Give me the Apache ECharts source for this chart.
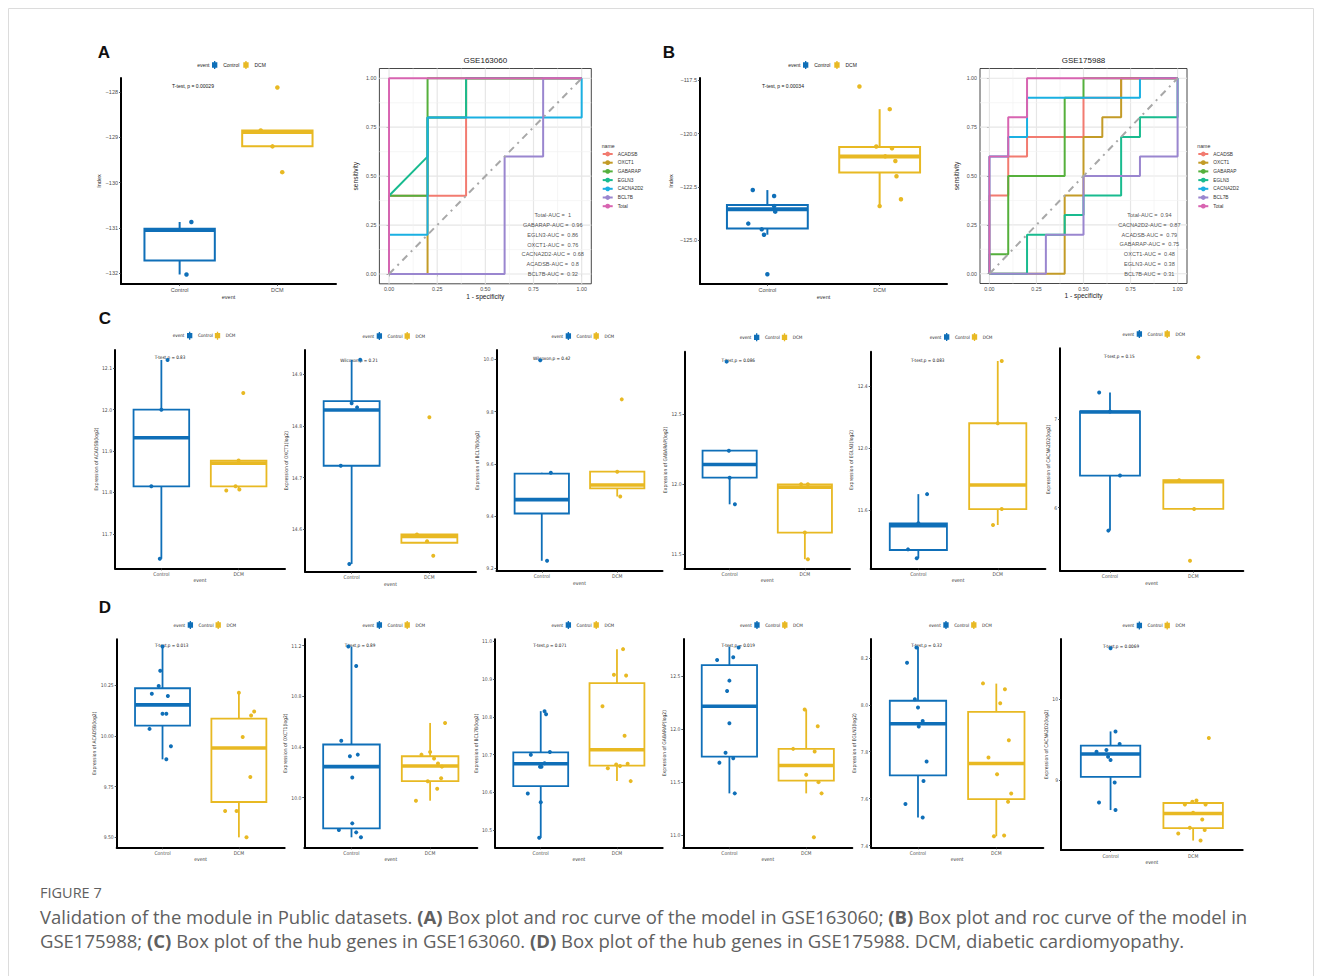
<!DOCTYPE html>
<html>
<head>
<meta charset="utf-8">
<title>Figure 7</title>
<script src="https://cdn.jsdelivr.net/npm/echarts@6/dist/echarts.min.js"></script>
<style>
  html, body { margin: 0; padding: 0; background: #fff; }
  #chart { width: 1322px; height: 976px; }
</style>
</head>
<body>
<div id="chart"></div>
<script>
// ---------------- data ----------------
const groups = ['Control', 'DCM'];
const groupColors = ['#0F6FB8', '#E8B923'];

// box summaries: [lower whisker, Q1, median, Q3, upper whisker] for Control, DCM
// points: sample values; jitter: horizontal spread of each sample (category units)

// A: risk index, GSE163060
const A_box = [[-132.03, -131.72, -131.05, -131.02, -130.87], [-129.2, -129.2, -128.88, -128.85, -128.85]];
const A_pts = [[-130.87, -132.03], [-127.9, -128.85, -129.2, -129.77]];
const A_jit = [[0.12, 0.07], [0, -0.17, -0.05, 0.05]];
const A_ticks = [-132, -131, -130, -129, -128];

// B: risk index, GSE175988
const B_box = [[-124.74, -124.45, -123.55, -123.35, -122.65], [-123.4, -121.83, -121.08, -120.63, -118.86]];
const B_pts = [[-122.65, -122.93, -123.4, -123.66, -124.22, -124.49, -124.74, -126.59],
               [-117.8, -118.86, -120.61, -120.69, -121.07, -121.29, -122.0, -123.08, -123.4]];
const B_jit = [[-0.13, 0.06, 0.06, 0.07, -0.17, -0.05, -0.03, 0], [-0.18, 0.09, -0.03, 0.11, 0.05, 0.14, 0.15, 0.19, 0]];
const B_ticks = [-125, -122.5, -120, -117.5];

// C: hub genes, GSE163060
const C1_box = [[11.64, 11.815, 11.932, 12.0, 12.12], [11.805, 11.815, 11.871, 11.877, 11.877]];
const C1_pts = [[12.12, 12.0, 11.815, 11.64], [12.04, 11.877, 11.815, 11.807, 11.805]];
const C1_jit = [[0.08, 0, -0.13, -0.02], [0.06, 0, -0.04, 0.01, -0.16]];
const C1_ticks = [11.7, 11.8, 11.9, 12.0, 12.1];

const C2_box = [[14.533, 14.723, 14.831, 14.848, 14.928], [14.574, 14.574, 14.586, 14.59, 14.59]];
const C2_pts = [[14.928, 14.844, 14.836, 14.723, 14.533], [14.817, 14.59, 14.577, 14.549]];
const C2_jit = [[0.11, 0, 0.07, -0.14, -0.03], [0, -0.16, -0.03, 0.05]];
const C2_ticks = [14.6, 14.7, 14.8, 14.9];

const C3_box = [[9.229, 9.41, 9.463, 9.563, 9.566], [9.475, 9.506, 9.519, 9.57, 9.57]];
const C3_pts = [[9.997, 9.566, 9.229], [9.847, 9.57, 9.475]];
const C3_jit = [[-0.02, 0.12, 0.07], [0.06, 0, 0.04]];
const C3_ticks = [9.2, 9.4, 9.6, 9.8, 10.0];

const C4_box = [[11.857, 12.047, 12.141, 12.24, 12.24], [11.465, 11.655, 11.98, 12.0, 12.0]];
const C4_pts = [[12.876, 12.24, 12.047, 11.857], [12.0, 12.0, 11.655, 11.465]];
const C4_jit = [[-0.04, -0.01, 0, 0.07], [-0.05, 0.04, 0, 0.04]];
const C4_ticks = [11.5, 12.0, 12.5];

const C5_box = [[11.289, 11.342, 11.499, 11.514, 11.702], [11.503, 11.606, 11.761, 12.159, 12.56]];
const C5_pts = [[11.702, 11.514, 11.346, 11.289], [12.56, 12.159, 11.606, 11.503]];
const C5_jit = [[0.11, 0, -0.13, -0.02], [0.05, 0, 0.05, -0.06]];
const C5_ticks = [11.6, 12.0, 12.4];

const C6_box = [[5.74, 6.362, 7.08, 7.086, 7.3], [5.985, 5.985, 6.294, 6.31, 6.31]];
const C6_pts = [[7.3, 7.086, 6.362, 5.74], [7.7, 6.31, 5.985, 5.4]];
const C6_jit = [[-0.13, 0, 0.12, -0.02], [0.06, -0.17, 0.01, -0.04]];
const C6_ticks = [6, 7];

// D: hub genes, GSE175988
const D1_box = [[9.884, 10.05, 10.152, 10.234, 10.44], [9.5, 9.674, 9.94, 10.084, 10.212]];
const D1_pts = [[10.44, 10.32, 10.245, 10.207, 10.196, 10.108, 10.108, 10.034, 9.948, 9.884],
                [10.212, 10.12, 10.1, 9.994, 9.797, 9.63, 9.63, 9.5]];
const D1_jit = [[0, -0.03, -0.05, -0.14, 0.07, 0, 0.05, -0.17, 0.11, 0.05], [0, 0.2, 0.16, 0.05, 0.15, -0.18, -0.03, 0.1]];
const D1_ticks = [9.5, 9.75, 10.0, 10.25];

const D2_box = [[9.687, 9.758, 10.245, 10.42, 11.193], [9.976, 10.13, 10.25, 10.327, 10.59]];
const D2_pts = [[11.193, 11.04, 10.45, 10.327, 10.34, 10.16, 9.797, 9.744, 9.726, 9.687],
                [10.59, 10.36, 10.34, 10.31, 10.27, 10.245, 10.153, 10.13, 10.07, 9.976]];
const D2_jit = [[-0.04, 0.06, -0.13, -0.02, 0.08, 0.01, 0.01, -0.16, 0.06, 0.12], [0.19, 0, -0.11, 0.05, 0.1, 0.15, 0.14, -0.03, 0.09, -0.18]];
const D2_ticks = [10.0, 10.4, 10.8, 11.2];

const D3_box = [[10.48, 10.617, 10.676, 10.706, 10.815], [10.63, 10.671, 10.713, 10.889, 10.979]];
const D3_pts = [[10.815, 10.807, 10.707, 10.7, 10.677, 10.668, 10.668, 10.597, 10.574, 10.48],
                [10.979, 10.911, 10.909, 10.828, 10.75, 10.674, 10.67, 10.676, 10.664, 10.63]];
const D3_jit = [[0.05, 0.07, 0.12, -0.13, 0.05, -0.01, 0.01, -0.17, 0, -0.02], [0.08, -0.04, 0.12, -0.19, 0.1, -0.01, 0.04, 0.14, -0.12, 0.18]];
const D3_ticks = [10.5, 10.6, 10.7, 10.8, 10.9, 11.0];

const D4_box = [[11.393, 11.74, 12.215, 12.604, 12.778], [11.393, 11.514, 11.656, 11.813, 12.184]];
const D4_pts = [[12.769, 12.678, 12.652, 12.457, 12.36, 12.054, 11.777, 11.724, 11.683, 11.393],
                [12.184, 12.027, 11.813, 11.788, 11.568, 11.499, 11.393, 10.978]];
const D4_jit = [[0.12, 0.05, -0.16, 0, -0.03, 0, -0.05, 0.05, -0.13, 0.07], [-0.02, 0.15, -0.17, 0.11, 0, 0.16, 0.2, 0.1]];
const D4_ticks = [11.0, 11.5, 12.0, 12.5];

const D5_box = [[7.52, 7.699, 7.919, 8.017, 8.247], [7.44, 7.598, 7.75, 7.97, 8.09]];
const D5_pts = [[8.244, 8.179, 8.023, 7.988, 7.931, 7.907, 7.758, 7.675, 7.577, 7.52],
                [8.091, 8.066, 8.006, 7.849, 7.775, 7.704, 7.622, 7.587, 7.44, 7.443]];
const D5_jit = [[-0.02, -0.14, -0.04, 0, 0.06, 0.01, 0.11, 0.07, -0.16, 0.06], [-0.17, 0.11, 0.05, 0.16, -0.1, 0.01, 0.19, 0.15, -0.03, 0.1]];
const D5_ticks = [7.4, 7.6, 7.8, 8.0, 8.2];

const D6_box = [[8.628, 9.04, 9.322, 9.425, 9.602], [8.25, 8.405, 8.586, 8.715, 8.746]];
const D6_pts = [[10.632, 9.602, 9.446, 9.35, 9.372, 9.289, 9.248, 8.97, 8.722, 8.628],
                [9.52, 8.746, 8.73, 8.697, 8.697, 8.594, 8.511, 8.408, 8.338, 8.38, 8.25]];
const D6_jit = [[0, 0.06, 0.11, -0.17, -0.05, -0.03, 0, 0.05, -0.14, 0.06], [0.19, 0.04, -0.01, 0.15, -0.1, 0, 0.11, -0.04, -0.18, 0.14, 0.09]];
const D6_ticks = [9, 10];

// ROC curves: [1 - specificity, sensitivity]
const rocNames = ['ACADSB', 'OXCT1', 'GABARAP', 'EGLN3', 'CACNA2D2', 'BCL7B', 'Total'];
const rocColors = ['#F27B70', '#C39B27', '#55B03C', '#19BB8F', '#1AB0E2', '#9A86CF', '#D864B1'];

const rocA_curves = [
  [[0, 0], [0, 0.4], [0.4, 0.4], [0.4, 1], [1, 1]],
  [[0, 0], [0.2, 0], [0.2, 0.8], [0.4, 0.8], [0.4, 1], [1, 1]],
  [[0, 0], [0, 0.4], [0.2, 0.4], [0.2, 1], [1, 1]],
  [[0, 0], [0, 0.4], [0.2, 0.6], [0.2, 0.8], [0.4, 0.8], [0.4, 1], [1, 1]],
  [[0, 0], [0, 0.2], [0.2, 0.2], [0.2, 0.8], [1, 0.8], [1, 1]],
  [[0, 0], [0.6, 0], [0.6, 0.6], [0.8, 0.6], [0.8, 1], [1, 1]],
  [[0, 0], [0, 1], [1, 1]]
];
const rocA_auc = ['Total-AUC =  1', 'GABARAP-AUC =  0.96', 'EGLN3-AUC =  0.86', 'OXCT1-AUC =  0.76',
                  'CACNA2D2-AUC =  0.68', 'ACADSB-AUC =  0.8', 'BCL7B-AUC =  0.32'];

const rocB_curves = [
  [[0, 0], [0, 0.4], [0.1, 0.4], [0.1, 0.6], [0.2, 0.6], [0.2, 0.7], [0.5, 0.7], [0.5, 0.9], [0.7, 0.9], [0.7, 1], [1, 1]],
  [[0, 0], [0.4, 0], [0.4, 0.4], [0.5, 0.4], [0.5, 0.7], [0.6, 0.7], [0.6, 0.8], [0.7, 0.8], [0.7, 1], [1, 1]],
  [[0, 0], [0, 0.1], [0.1, 0.1], [0.1, 0.5], [0.4, 0.5], [0.4, 0.9], [0.5, 0.9], [0.5, 1], [1, 1]],
  [[0, 0], [0.2, 0], [0.2, 0.2], [0.4, 0.2], [0.4, 0.3], [0.5, 0.3], [0.5, 0.4], [0.7, 0.4], [0.7, 0.7], [0.8, 0.7], [0.8, 0.8], [1, 0.8], [1, 1]],
  [[0, 0], [0, 0.6], [0.1, 0.6], [0.1, 0.7], [0.2, 0.7], [0.2, 0.9], [0.8, 0.9], [0.8, 1], [1, 1]],
  [[0, 0], [0.3, 0], [0.3, 0.2], [0.5, 0.2], [0.5, 0.5], [0.8, 0.5], [0.8, 0.6], [1, 0.6], [1, 1]],
  [[0, 0], [0, 0.6], [0.1, 0.6], [0.1, 0.8], [0.2, 0.8], [0.2, 1], [1, 1]]
];
const rocB_auc = ['Total-AUC =  0.94', 'CACNA2D2-AUC =  0.87', 'ACADSB-AUC =  0.79', 'GABARAP-AUC =  0.75',
                  'OXCT1-AUC =  0.48', 'EGLN3-AUC =  0.38', 'BCL7B-AUC =  0.31'];
const rocAucY = [0.3, 0.25, 0.2, 0.15, 0.1, 0.05, 0];
const rocTicks = [0, 0.25, 0.5, 0.75, 1];
const rocMinor = [0.125, 0.375, 0.625, 0.875];

// ---------------- layout ----------------
const FONT = "'Liberation Sans', Arial, Helvetica, sans-serif";
const NARROW = "'Liberation Sans Narrow', 'DejaVu Sans Condensed', 'Liberation Sans', Arial, sans-serif";

const boxPanels = [
  { box: A_box, pts: A_pts, jit: A_jit, ticks: A_ticks, dec: 0, big: true,
    grid: [121, 78, 215, 206], range: [-132.24, -127.69], yName: 'Index', yGap: 15, xGap: 8,
    legX: 212, legY: 65, test: 'T-test, p = 0.00029', testX: 193, testY: 86 },
  { box: B_box, pts: B_pts, jit: B_jit, ticks: B_ticks, dec: 1, big: true,
    grid: [700, 78, 247, 206], range: [-127.05, -117.4], yName: 'Index', yGap: 26, xGap: 8,
    legX: 803, legY: 65, test: 'T-test, p = 0.00034', testX: 783, testY: 86 },

  { box: C1_box, pts: C1_pts, jit: C1_jit, ticks: C1_ticks, dec: 1,
    grid: [115, 350, 170, 218.3], range: [11.617, 12.144], yName: 'Expression of ACADSB(log2)', yGap: 11, xGap: 9,
    legX: 187, legY: 335.7, test: 'T-test,p = 0.83', testX: 170, testY: 357.7 },
  { box: C2_box, pts: C2_pts, jit: C2_jit, ticks: C2_ticks, dec: 1,
    grid: [305, 350, 171, 221.7], range: [14.518, 14.947], yName: 'Expression of OXCT1(log2)', yGap: 11, xGap: 10,
    legX: 376.7, legY: 336, test: 'Wilcoxon,p = 0.21', testX: 359, testY: 360 },
  { box: C3_box, pts: C3_pts, jit: C3_jit, ticks: C3_ticks, dec: 1,
    grid: [496.5, 350, 166, 220.7], range: [9.191, 10.036], yName: 'Expression of BCL7B(log2)', yGap: 10, xGap: 10,
    legX: 565.7, legY: 336, test: 'Wilcoxon,p = 0.42', testX: 551.7, testY: 358.3 },
  { box: C4_box, pts: C4_pts, jit: C4_jit, ticks: C4_ticks, dec: 1,
    grid: [684.5, 351.7, 165.5, 216.6], range: [11.4, 12.947], yName: 'Expression of GABARAP(log2)', yGap: 10, xGap: 9.5,
    legX: 754, legY: 337.3, test: 'T-test,p = 0.086', testX: 738.3, testY: 360 },
  { box: C5_box, pts: C5_pts, jit: C5_jit, ticks: C5_ticks, dec: 1,
    grid: [870.7, 351.7, 174.7, 216.6], range: [11.224, 12.62], yName: 'Expression of EGLN3(log2)', yGap: 10, xGap: 9,
    legX: 944, legY: 337, test: 'T-test,p = 0.083', testX: 927.7, testY: 360 },
  { box: C6_box, pts: C6_pts, jit: C6_jit, ticks: C6_ticks, dec: 0,
    grid: [1060, 348.3, 183.3, 222.4], range: [5.287, 7.8], yName: 'Expression of CACNA2D2(log2)', yGap: 6, xGap: 9.5,
    legX: 1136.7, legY: 334, test: 'T-test,p = 0.15', testX: 1119.3, testY: 356.7 },

  { box: D1_box, pts: D1_pts, jit: D1_jit, ticks: D1_ticks, dec: 2,
    grid: [116.7, 639.3, 168, 208], range: [9.451, 10.475], yName: 'Expression of ACADSB(log2)', yGap: 12, xGap: 8,
    legX: 187.7, legY: 625, test: 'T-test,p = 0.013', testX: 171.7, testY: 645.7 },
  { box: D2_box, pts: D2_pts, jit: D2_jit, ticks: D2_ticks, dec: 1,
    grid: [304.3, 639, 173, 208.3], range: [9.608, 11.253], yName: 'Expression of OXCT1(log2)', yGap: 10.5, xGap: 8,
    legX: 376.7, legY: 625, test: 'T-test,p = 0.89', testX: 360, testY: 645.7 },
  { box: D3_box, pts: D3_pts, jit: D3_jit, ticks: D3_ticks, dec: 1,
    grid: [495, 639.3, 167.7, 208], range: [10.455, 11.005], yName: 'Expression of BCL7B(log2)', yGap: 11, xGap: 9,
    legX: 565.7, legY: 625, test: 'T-test,p = 0.071', testX: 550, testY: 645.7 },
  { box: D4_box, pts: D4_pts, jit: D4_jit, ticks: D4_ticks, dec: 1,
    grid: [683.3, 639, 169, 208.3], range: [10.884, 12.85], yName: 'Expression of GABARAP(log2)', yGap: 11, xGap: 8,
    legX: 754.3, legY: 625, test: 'T-test,p = 0.019', testX: 738.3, testY: 645.7 },
  { box: D5_box, pts: D5_pts, jit: D5_jit, ticks: D5_ticks, dec: 1,
    grid: [871, 639, 172.3, 208.3], range: [7.393, 8.28], yName: 'Expression of EGLN3(log2)', yGap: 10, xGap: 8,
    legX: 943.3, legY: 625, test: 'T-test,p = 0.32', testX: 926.7, testY: 645.7 },
  { box: D6_box, pts: D6_pts, jit: D6_jit, ticks: D6_ticks, dec: 0,
    grid: [1061, 639, 181.7, 211], range: [8.133, 10.747], yName: 'Expression of CACNA2D2(log2)', yGap: 8, xGap: 9.5,
    legX: 1136.7, legY: 625.5, test: 'T-test,p = 0.0069', testX: 1121, testY: 646 }
];

const rocPanels = [
  { curves: rocA_curves, auc: rocA_auc, title: 'GSE163060', grid: [379.4, 68.5, 211.9, 215.3], legX: 601.7, legY: 146 },
  { curves: rocB_curves, auc: rocB_auc, title: 'GSE175988', grid: [980, 68.5, 207, 215], legX: 1197.3, legY: 146 }
];

// ---------------- build ----------------
const grids = [], xAxes = [], yAxes = [], series = [], legends = [], graphics = [];
const BOX_ICON = 'path://M3,0h2v2h3v8h-3v2h-2v-2h-3v-8h3z';

function fmtTick(v, dec) {
  const s = Math.abs(v).toFixed(dec);
  return (v < 0 ? '\u2212' : '') + s;
}

function textEl(x, y, text, size, opts) {
  opts = opts || {};
  return {
    type: 'text', x: x, y: y, silent: true, rotation: opts.rotation || 0,
    style: {
      text: text, fontSize: size, fontFamily: opts.family || FONT, fontWeight: opts.weight || 'normal',
      fill: opts.color || '#222', align: opts.align || 'center', verticalAlign: opts.va || 'middle',
      textAlign: opts.align || 'center', textVerticalAlign: opts.va || 'middle', rich: opts.rich
    }
  };
}

function boxRenderer(color, lw) {
  return function (params, api) {
    const x = api.value(0);
    const lo = api.value(1), q1 = api.value(2), md = api.value(3), q3 = api.value(4), hi = api.value(5);
    const half = 0.36;
    const pHi = api.coord([x, hi]), pQ3 = api.coord([x, q3]);
    const pQ1 = api.coord([x, q1]), pLo = api.coord([x, lo]), pMd = api.coord([x, md]);
    const xl = api.coord([x - half, md])[0], xr = api.coord([x + half, md])[0];
    return {
      type: 'group',
      children: [
        { type: 'line', shape: { x1: pHi[0], y1: pHi[1], x2: pQ3[0], y2: pQ3[1] }, style: { stroke: color, lineWidth: lw } },
        { type: 'line', shape: { x1: pQ1[0], y1: pQ1[1], x2: pLo[0], y2: pLo[1] }, style: { stroke: color, lineWidth: lw } },
        { type: 'rect', shape: { x: xl, y: pQ3[1], width: xr - xl, height: pQ1[1] - pQ3[1] },
          style: { fill: '#fff', stroke: color, lineWidth: lw } },
        { type: 'line', shape: { x1: xl, y1: pMd[1], x2: xr, y2: pMd[1] }, style: { stroke: color, lineWidth: lw * 2 } }
      ]
    };
  };
}

function addBoxPanel(p) {
  const idx = grids.length;
  const [left, top, width, height] = p.grid;
  const fs = p.big ? 5.5 : 5;
  const fam = p.big ? FONT : NARROW;
  grids.push({ left: left, top: top, width: width, height: height, containLabel: false, outerBoundsMode: 'none' });
  xAxes.push({
    gridIndex: idx, type: 'value', min: 0.4, max: 2.6,
    axisLine: { show: true, onZero: false, lineStyle: { color: '#000', width: 2 } },
    axisTick: { show: true, customValues: [1, 2], length: 2, lineStyle: { color: '#333', width: 0.8 } },
    axisLabel: { show: true, customValues: [1, 2], formatter: v => groups[Math.round(v) - 1],
                 fontSize: fs, color: '#4d4d4d', margin: 3, fontFamily: fam },
    splitLine: { show: false },
    name: 'event', nameLocation: 'middle', nameGap: p.xGap,
    nameTextStyle: { fontSize: fs, color: '#333', fontFamily: fam }
  });
  yAxes.push({
    gridIndex: idx, type: 'value', min: p.range[0], max: p.range[1],
    axisLine: { show: true, onZero: false, lineStyle: { color: '#000', width: 2 } },
    axisTick: { show: true, customValues: p.ticks, length: 2, lineStyle: { color: '#333', width: 0.8 } },
    axisLabel: { show: true, customValues: p.ticks, formatter: v => fmtTick(v, p.dec),
                 fontSize: fs, color: '#4d4d4d', margin: 3, fontFamily: fam },
    splitLine: { show: false },
    name: p.yName, nameLocation: 'middle', nameRotate: 90, nameGap: p.yGap,
    nameTextStyle: { fontSize: fs, color: '#333', fontFamily: fam }
  });
  groups.forEach((g, gi) => {
    series.push({
      type: 'custom', name: g, xAxisIndex: idx, yAxisIndex: idx, silent: true, z: 2,
      itemStyle: { color: groupColors[gi] },
      encode: { x: 0, y: [1, 2, 3, 4, 5] },
      data: [[gi + 1].concat(p.box[gi])],
      renderItem: boxRenderer(groupColors[gi], p.big ? 2 : 1.8)
    });
  });
  groups.forEach((g, gi) => {
    series.push({
      type: 'scatter', name: g, xAxisIndex: idx, yAxisIndex: idx, silent: true, z: 3,
      symbolSize: p.big ? 4.5 : 4, itemStyle: { color: groupColors[gi], opacity: 1 },
      data: p.pts[gi].map((v, k) => [gi + 1 + p.jit[gi][k], v])
    });
  });
  // legend: "event" + two keys
  legends.push({
    left: p.legX, top: p.legY - 4, orient: 'horizontal', padding: 0,
    itemWidth: p.big ? 7 : 6.5, itemHeight: 8, itemGap: p.big ? 4 : 2,
    selectedMode: false, icon: BOX_ICON,
    textStyle: { fontSize: p.big ? 5 : 4.6, color: '#222', fontFamily: fam },
    data: groups.map((g, gi) => ({ name: g, itemStyle: { color: groupColors[gi] } }))
  });
  graphics.push(textEl(p.legX - 2.5, p.legY, 'event', p.big ? 5 : 4.6, { align: 'right', family: fam }));
  graphics.push(textEl(p.testX, p.testY, p.test, p.big ? 5 : 4.6, { family: fam, color: '#111' }));
}

function addRocPanel(r) {
  const idx = grids.length;
  const [left, top, width, height] = r.grid;
  grids.push({ left: left, top: top, width: width, height: height, containLabel: false, outerBoundsMode: 'none',
               show: true, borderColor: '#333', borderWidth: 0.9, backgroundColor: '#fff' });
  const axisCommon = {
    gridIndex: idx, type: 'value', min: -0.05, max: 1.05,
    axisLine: { show: false },
    axisTick: { show: true, customValues: rocTicks, length: 2.5, lineStyle: { color: '#333', width: 0.8 } },
    axisLabel: { show: true, customValues: rocTicks, formatter: v => v.toFixed(2),
                 fontSize: 5.3, color: '#4d4d4d', margin: 3, fontFamily: FONT },
    splitLine: { show: false },
    nameLocation: 'middle', nameTextStyle: { fontSize: 6.6, color: '#222', fontFamily: FONT }
  };
  xAxes.push(Object.assign({}, axisCommon, { name: '1 - specificity', nameGap: 8.5 }));
  yAxes.push(Object.assign({}, axisCommon, { name: 'sensitivity', nameGap: 20, nameRotate: 90 }));

  // background grid lines (major and minor)
  const gl = [];
  rocTicks.forEach(v => { gl.push([v, 0, 1]); gl.push([v, 1, 1]); });
  rocMinor.forEach(v => { gl.push([v, 0, 0]); gl.push([v, 1, 0]); });
  series.push({
    type: 'custom', xAxisIndex: idx, yAxisIndex: idx, silent: true, z: 1,
    data: gl,
    renderItem: function (params, api) {
      const v = api.value(0), dir = api.value(1), major = api.value(2);
      const a = dir === 0 ? api.coord([v, -0.05]) : api.coord([-0.05, v]);
      const b = dir === 0 ? api.coord([v, 1.05]) : api.coord([1.05, v]);
      return { type: 'line', shape: { x1: a[0], y1: a[1], x2: b[0], y2: b[1] },
               style: { stroke: major ? '#e6e6e6' : '#f2f2f2', lineWidth: major ? 1.2 : 0.7 } };
    }
  });
  r.curves.forEach((c, k) => {
    series.push({
      type: 'line', name: rocNames[k], xAxisIndex: idx, yAxisIndex: idx, silent: true, z: 3 + k * 0.01,
      data: c, symbol: 'none', showSymbol: false,
      lineStyle: { color: rocColors[k], width: 2 }, itemStyle: { color: rocColors[k] }
    });
  });
  series.push({
    type: 'line', xAxisIndex: idx, yAxisIndex: idx, silent: true, z: 4,
    data: [[0, 0], [1, 1]], symbol: 'none', showSymbol: false,
    lineStyle: { color: '#a8a8a8', width: 2, type: [7, 5, 2, 5] }
  });
  series.push({
    type: 'scatter', xAxisIndex: idx, yAxisIndex: idx, silent: true, z: 5,
    symbolSize: 0.1, itemStyle: { color: 'rgba(0,0,0,0)' },
    data: r.auc.map((t, k) => ({ value: [0.85, rocAucY[k]], label: { formatter: t } })),
    label: { show: true, position: 'inside', fontSize: 5.6, color: '#222', fontFamily: FONT }
  });
  graphics.push(textEl(left + width / 2, top - 8, r.title, 8, { color: '#222' }));
  graphics.push(textEl(r.legX, r.legY, 'name', 5.2, { align: 'left', color: '#333' }));
  legends.push({
    left: r.legX, top: r.legY + 5.5, orient: 'vertical', padding: 0,
    itemWidth: 10, itemHeight: 6, itemGap: 3.7, selectedMode: false,
    textStyle: { fontSize: 4.8, color: '#333', fontFamily: FONT },
    data: rocNames
  });
}

addBoxPanel(boxPanels[0]);
addRocPanel(rocPanels[0]);
addBoxPanel(boxPanels[1]);
addRocPanel(rocPanels[1]);
for (let i = 2; i < boxPanels.length; i++) addBoxPanel(boxPanels[i]);

// panel letters
[['A', 104, 52], ['B', 669, 52], ['C', 105, 318], ['D', 105, 607]].forEach(([t, x, y]) => {
  graphics.push(textEl(x, y, t, 17, { weight: 'bold', color: '#111' }));
});

// card frame
graphics.push({ type: 'rect', silent: true, shape: { x: 8.5, y: 8.5, width: 1305, height: 1010 },
                style: { fill: 'none', stroke: '#dcdcdc', lineWidth: 1 } });

// caption
const CAP = "'Open Sans', 'Noto Sans', sans-serif";
const CAP_COLOR = '#606060';
const capRich = { b: { fontWeight: 'bold', fontSize: 18.5, fontFamily: CAP, fill: CAP_COLOR, color: CAP_COLOR } };
graphics.push(textEl(40, 892, 'FIGURE 7', 14.5, { align: 'left', family: CAP, color: CAP_COLOR }));
graphics.push(textEl(40, 916,
  'Validation of the module in Public datasets. {b|(A)} Box plot and roc curve of the model in GSE163060; {b|(B)} Box plot and roc curve of the model in',
  18.5, { align: 'left', family: CAP, color: CAP_COLOR, rich: capRich }));
graphics.push(textEl(40, 940,
  'GSE175988; {b|(C)} Box plot of the hub genes in GSE163060. {b|(D)} Box plot of the hub genes in GSE175988. DCM, diabetic cardiomyopathy.',
  18.5, { align: 'left', family: CAP, color: CAP_COLOR, rich: capRich }));

const chart = echarts.init(document.getElementById('chart'), null, { renderer: 'svg', width: 1322, height: 976 });
chart.setOption({
  backgroundColor: '#fff',
  animation: false,
  tooltip: { show: false },
  grid: grids,
  xAxis: xAxes,
  yAxis: yAxes,
  legend: legends,
  series: series,
  graphic: { elements: graphics }
});
</script>
</body>
</html>
